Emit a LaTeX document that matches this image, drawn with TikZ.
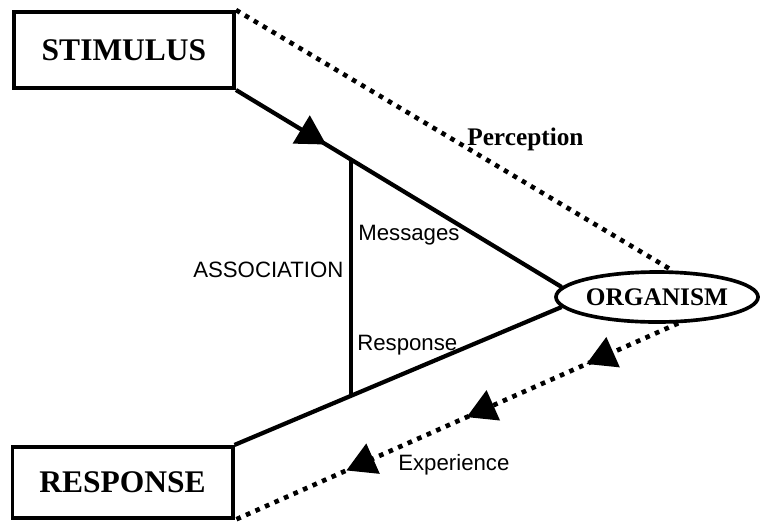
\documentclass[tikz,border=0pt]{standalone}
\usepackage{fontspec}
\setmainfont{Liberation Serif}
\setsansfont{Liberation Sans}
\usepackage{tikz}
\usetikzlibrary{shapes}
\usetikzlibrary{arrows.meta}
\usetikzlibrary{calc}
\usetikzlibrary{decorations.markings}
\tikzset{box/.style={draw, line width=2.8pt, minimum width=5.5cm, inner sep=0pt, font=\bfseries\fontsize{22.4}{26}\selectfont}}
\tikzset{oval/.style={draw, ellipse, line width=2.6pt, minimum width=5.05cm, minimum height=1.25cm, inner sep=0pt, font=\bfseries\fontsize{18}{21}\selectfont}}
\tikzset{lab/.style={inner sep=0pt, font=\sffamily\fontsize{15.8}{18}\selectfont}}
\tikzset{link/.style={line width=3pt}}
\tikzset{dots/.style={line width=3.3pt, dash pattern=on 3.3pt off 4.1pt}}
\tikzset{head at/.style={postaction={decorate, decoration={markings, mark=at position #1 with {\arrow{Triangle[length=7.3mm, width=8mm]}}}}}}

\begin{document}
\begin{tikzpicture}[x=0.025cm, y=-0.025cm]
\useasboundingbox (0,0) rectangle (760,522);
\node[box, minimum height=1.9cm] (stim) at (124,50) {STIMULUS};
\node[box, minimum height=1.78cm] (resp) at (122.5,482.5) {RESPONSE};
\node[oval] (org) at (657,297) {ORGANISM};
\draw[link, head at=0.277] (stim.south east) -- (org.174);
\draw[link] (resp.north east) -- (org.186);
\coordinate (assoctop) at ($(stim.south east)!0.353!(org.174)$);
\coordinate (assocbot) at ($(resp.north east)!0.355!(org.186)$);
\draw[link] (assoctop) -- (assoctop |- assocbot);
\draw[dots] (stim.north east) -- (org.60);
\draw[dots, head at=0.207, head at=0.477, head at=0.748] (org.309) -- (resp.south east);
\node[inner sep=0pt, font=\bfseries\fontsize{18}{21}\selectfont, anchor=base west] (perc) at (467,145) {Perception};
\node[lab, anchor=base west] (mess) at (358,240) {Messages};
\node[lab, anchor=base west] (respl) at (357,350) {Response};
\node[lab, anchor=base west] (assoc) at (193,277) {ASSOCIATION};
\node[lab, anchor=base west] (exp) at (398,470) {Experience};
\end{tikzpicture}
\end{document}
